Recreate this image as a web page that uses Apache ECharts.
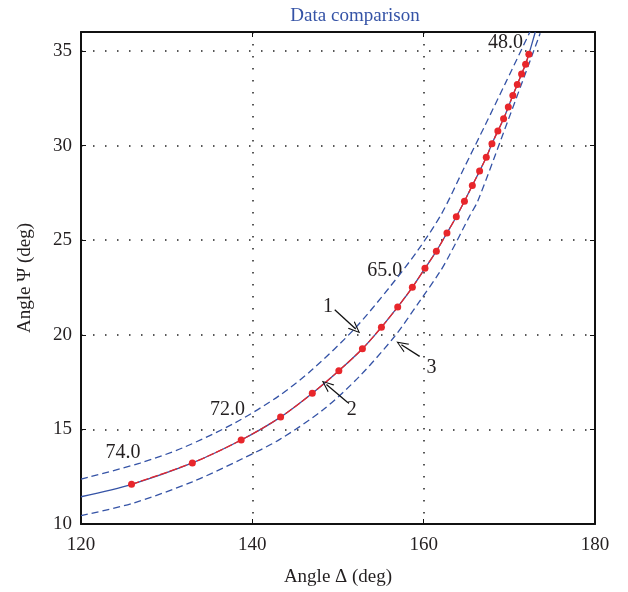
<!DOCTYPE html>
<html>
<head>
<meta charset="utf-8">
<script src="https://cdn.jsdelivr.net/npm/echarts@6/dist/echarts.min.js"></script>
<style>
  html, body { margin: 0; padding: 0; background: #ffffff; }
  #chart { width: 628px; height: 592px; }
</style>
</head>
<body>
<div id="chart"></div>
<script>
// measured points (Delta, Psi) in degrees
const dotDelta = [125.9, 133.0, 138.7, 143.3, 147.0, 150.1, 152.85, 155.07, 156.97, 158.68,
  160.15, 161.48, 162.72, 163.81, 164.76, 165.68, 166.53, 167.31, 167.97, 168.66,
  169.33, 169.88, 170.41, 170.93, 171.43, 171.90, 172.28];
const dotPsi = [12.1, 13.23, 14.44, 15.65, 16.91, 18.1, 19.26, 20.4, 21.47, 22.51,
  23.51, 24.42, 25.38, 26.24, 27.06, 27.89, 28.65, 29.38, 30.09, 30.77,
  31.41, 32.04, 32.65, 33.23, 33.78, 34.3, 34.83];

// curve 1 (upper dashed)
const curve1Delta = [120, 126.9, 132, 138, 143.2, 147.1, 152, 156, 159.3, 162.1, 164.7, 167.2, 169.6, 172.4];
const curve1Psi = [12.37, 13.22, 14.05, 15.35, 16.8, 18.2, 20.35, 22.5, 24.45, 26.4, 28.8, 31.1, 33.35, 36.0];

// curve 2 (solid, computed)
const curve2Delta = [120, 125.9, 133.0, 138.7, 143.3, 147.0, 150.1, 152.85, 155.07, 156.97, 158.68,
  160.15, 161.48, 162.72, 163.81, 164.76, 165.68, 166.53, 167.31, 167.97, 168.66,
  169.33, 169.88, 170.41, 170.93, 171.43, 171.90, 172.28, 173.03];
const curve2Psi = [11.44, 12.1, 13.23, 14.44, 15.65, 16.91, 18.1, 19.26, 20.4, 21.47, 22.51,
  23.51, 24.42, 25.38, 26.24, 27.06, 27.89, 28.65, 29.38, 30.09, 30.77,
  31.41, 32.04, 32.65, 33.23, 33.78, 34.3, 34.83, 36.0];

// curve 3 (lower dashed)
const curve3Delta = [120, 126, 133, 138.7, 143.2, 148.3, 152.5, 156.6, 159.5, 161.9, 163.0, 165.4, 166.3, 169.5, 173.6];
const curve3Psi = [10.44, 11.09, 12.23, 13.42, 14.47, 16.05, 17.8, 19.91, 21.75, 23.33, 24.2, 26.3, 27.05, 30.9, 35.93];

const xTicks = [120, 140, 160, 180];
const yTicks = [10, 15, 20, 25, 30, 35];

// text labels on the plot
const noteText = ['74.0', '72.0', '65.0', '48.0', '1', '2', '3'];
const noteDelta = [124.9, 137.1, 155.45, 169.56, 148.84, 151.6, 160.9];
const notePsi = [13.79, 16.05, 23.37, 35.42, 21.49, 16.05, 18.25];

// arrows: from -> to
const arrowFrom = [[149.62, 21.32], [151.17, 16.41], [159.53, 18.86]];
const arrowTo = [[152.07, 20.3], [148.65, 17.37], [157.4, 19.47]];

const zip = (a, b) => a.map((v, i) => [v, b[i]]);
const blue = '#3553a6';
const red = '#e8262b';
const ink = '#231f20';
const serif = '"Liberation Serif", "DejaVu Serif", serif';

const chart = echarts.init(document.getElementById('chart'));

const frameAxis = {
  axisLine: { show: true, onZero: false, lineStyle: { color: '#111', width: 2 } },
  axisTick: { show: true, inside: true, length: 5, lineStyle: { color: '#111', width: 1 } },
};

chart.setOption({
  animation: false,
  backgroundColor: '#ffffff',
  title: {
    text: 'Data comparison',
    left: 350,
    top: 2,
    textAlign: 'center',
    textStyle: { color: blue, fontFamily: serif, fontSize: 19, fontWeight: 'normal' },
  },
  grid: { left: 81, right: 33, top: 32, bottom: 67 },
  xAxis: [{
    type: 'value', min: 120, max: 180, interval: 20, position: 'bottom',
    ...frameAxis,
    axisLabel: {
      color: ink, fontFamily: serif, fontSize: 19, margin: 12,
      formatter: v => xTicks.includes(v) ? String(v) : '',
    },
    splitLine: { show: true, lineStyle: { color: '#222', width: 1.5, type: [1.5, 10.5] } },
    name: 'Angle Δ (deg)', nameLocation: 'middle', nameGap: 44,
    nameTextStyle: { color: ink, fontFamily: serif, fontSize: 19 },
  }, {
    type: 'value', min: 120, max: 180, interval: 20, position: 'top',
    ...frameAxis,
    axisLabel: { show: false }, splitLine: { show: false },
  }],
  yAxis: [{
    type: 'value', min: 10, max: 36, interval: 5, position: 'left',
    ...frameAxis,
    axisLabel: {
      color: ink, fontFamily: serif, fontSize: 19, margin: 9, showMaxLabel: false,
      formatter: v => yTicks.includes(v) ? String(v) : '',
    },
    splitLine: { show: true, lineStyle: { color: '#222', width: 1.5, type: [1.5, 10.5] } },
    name: 'Angle Ψ (deg)', nameLocation: 'middle', nameGap: 46, nameRotate: 90,
    nameTextStyle: { color: ink, fontFamily: serif, fontSize: 19 },
  }, {
    type: 'value', min: 10, max: 36, interval: 5, position: 'right',
    ...frameAxis,
    axisLabel: { show: false }, splitLine: { show: false },
  }],
  series: [
    {
      name: 'curve 1', type: 'line', data: zip(curve1Delta, curve1Psi),
      smooth: 0.3, showSymbol: false, silent: true,
      lineStyle: { color: blue, width: 1.3, type: [7, 4] },
    },
    {
      name: 'curve 3', type: 'line', data: zip(curve3Delta, curve3Psi),
      smooth: 0.3, showSymbol: false, silent: true,
      lineStyle: { color: blue, width: 1.3, type: [7, 4] },
    },
    {
      name: 'curve 2', type: 'line', data: zip(curve2Delta, curve2Psi),
      smooth: 0.3, showSymbol: false, silent: true,
      lineStyle: { color: blue, width: 1.3 },
    },
    {
      name: 'data', type: 'line', data: zip(dotDelta, dotPsi),
      smooth: 0.3, symbol: 'circle', symbolSize: 7, silent: true,
      itemStyle: { color: red },
      lineStyle: { color: red, width: 1.3, type: [8, 2] },
    },
    {
      name: 'notes', type: 'scatter', symbolSize: 0, silent: true,
      itemStyle: { color: ink, opacity: 1 },
      data: noteText.map((t, i) => ({ name: t, value: [noteDelta[i], notePsi[i]] })),
      label: {
        show: true, position: [0, 0], align: 'center', verticalAlign: 'middle',
        formatter: p => p.name, opacity: 1,
        color: ink, fontFamily: serif, fontSize: 20,
      },
      markLine: {
        silent: true, animation: false,
        symbol: ['none', 'path://M5,0L10,12L8.8,12L5,2.6L1.2,12L0,12Z'],
        symbolSize: [10, 12],
        label: { show: false },
        lineStyle: { color: '#111', width: 1.3, type: 'solid', opacity: 1 },
        data: arrowFrom.map((f, i) => [{ coord: f }, { coord: arrowTo[i] }]),
      },
    },
  ],
});
</script>
</body>
</html>
